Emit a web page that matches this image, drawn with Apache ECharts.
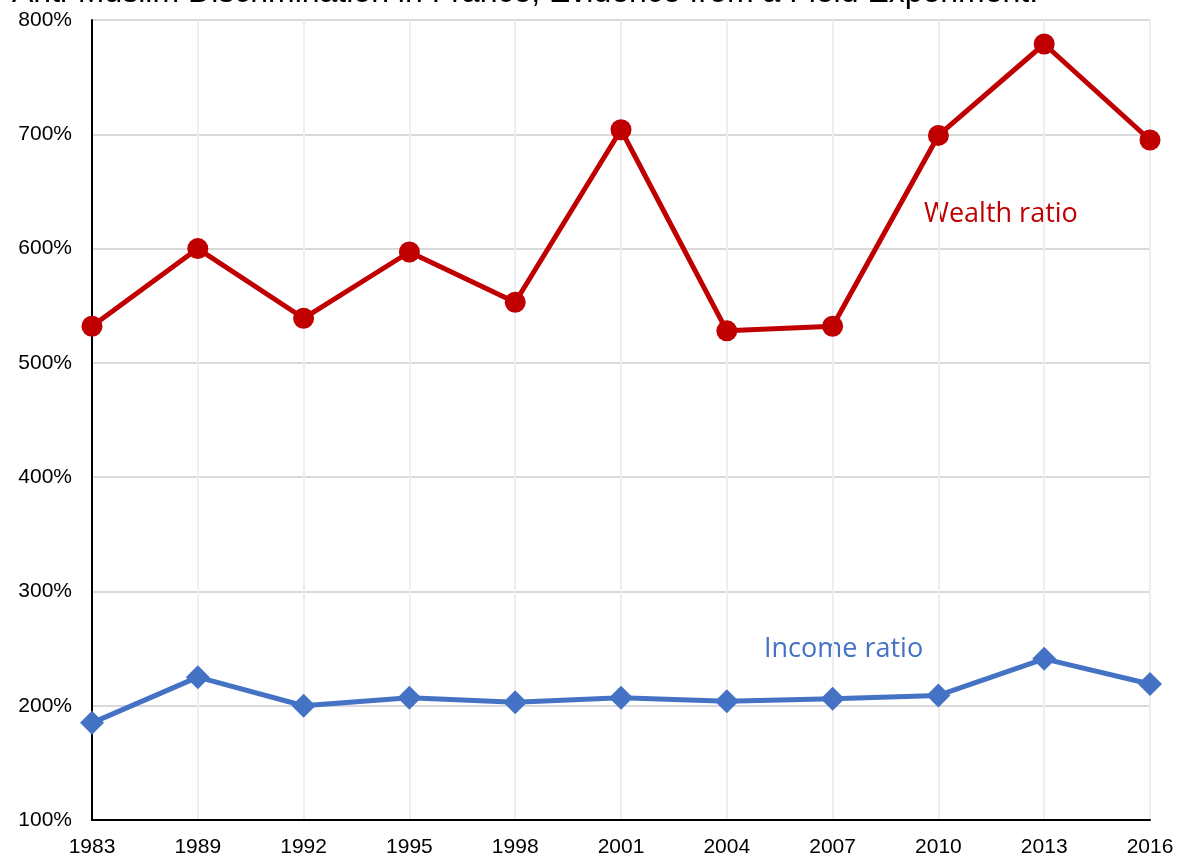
<!DOCTYPE html>
<html>
<head>
<meta charset="utf-8">
<title>Wealth and income ratio</title>
<script src="https://cdn.jsdelivr.net/npm/echarts@6/dist/echarts.min.js"></script>
<style>
  html, body { margin: 0; padding: 0; background: #ffffff; }
  #chart { width: 1184px; height: 861px; }
</style>
</head>
<body>
<div id="chart"></div>
<script>
// Survey years on the horizontal axis
const years = ['1983', '1989', '1992', '1995', '1998', '2001', '2004', '2007', '2010', '2013', '2016'];
// Ratios in percent
const wealthRatio = [532, 600, 539, 597, 553, 704, 528, 532, 699, 779, 695];
const incomeRatio = [185, 225, 200, 207, 203, 207, 204, 206, 209, 241, 219];

const titleText = 'Anti-Muslim Discrimination in France, Evidence from a Field Experiment.';
const wealthLabel = 'Wealth ratio';
const incomeLabel = 'Income ratio';

const RED = '#C00000';
const BLUE = '#4472C4';

const chart = echarts.init(document.getElementById('chart'));

chart.setOption({
  animation: false,
  backgroundColor: '#ffffff',
  grid: { left: 92, right: 34, top: 20, bottom: 41, containLabel: false },
  xAxis: {
    type: 'category',
    data: years,
    boundaryGap: false,
    axisLine: { show: true, lineStyle: { color: '#000000', width: 2 } },
    axisTick: { show: false },
    axisLabel: {
      interval: 0,
      color: '#000000',
      fontFamily: 'Liberation Sans, Arial, sans-serif',
      fontSize: 21,
      margin: 17
    },
    splitLine: { show: true, interval: 0, lineStyle: { color: '#eeeeee', width: 2 } }
  },
  yAxis: {
    type: 'value',
    min: 100,
    max: 800,
    interval: 100,
    axisLine: { show: true, lineStyle: { color: '#000000', width: 2 } },
    axisTick: { show: false },
    axisLabel: {
      formatter: '{value}%',
      color: '#000000',
      fontFamily: 'Liberation Sans, Arial, sans-serif',
      fontSize: 21,
      margin: 20
    },
    splitLine: { show: true, lineStyle: { color: '#d9d9d9', width: 2 } }
  },
  series: [
    {
      name: wealthLabel,
      type: 'line',
      data: wealthRatio,
      symbol: 'circle',
      symbolSize: 21,
      lineStyle: { color: RED, width: 5 },
      itemStyle: { color: RED },
      z: 3
    },
    {
      name: incomeLabel,
      type: 'line',
      data: incomeRatio,
      symbol: 'diamond',
      symbolSize: 24,
      lineStyle: { color: BLUE, width: 5 },
      itemStyle: { color: BLUE },
      z: 3
    }
  ],
  graphic: [
    {
      type: 'text',
      left: 12,
      top: -23,
      style: {
        text: titleText,
        font: '32px "Liberation Sans", Arial, sans-serif',
        fill: '#000000'
      }
    },
    {
      type: 'text',
      left: 924,
      top: 201,
      style: {
        text: wealthLabel,
        font: '27px "Open Sans", "Noto Sans", sans-serif',
        fill: RED
      }
    },
    {
      type: 'text',
      left: 764,
      top: 636,
      style: {
        text: incomeLabel,
        font: '27px "Open Sans", "Noto Sans", sans-serif',
        fill: BLUE
      }
    }
  ]
});
</script>
</body>
</html>
